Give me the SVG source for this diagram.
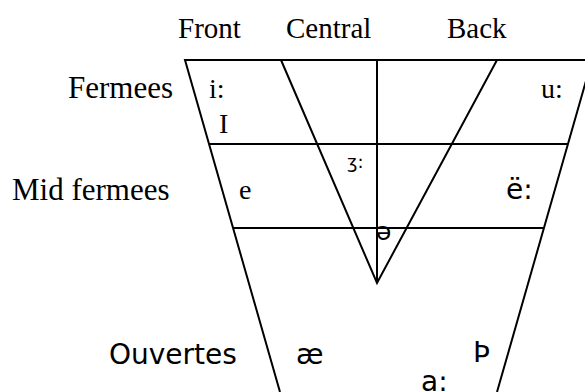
<svg xmlns="http://www.w3.org/2000/svg" width="585" height="392" viewBox="0 0 585 392">
<style>
.ln{stroke:#000;stroke-width:2;fill:none}
.sf{font-family:"Liberation Serif","Times New Roman",serif;font-size:28px;fill:#000}
.ss{font-family:"DejaVu Sans",Verdana,sans-serif;font-size:28px;fill:#000}
</style>
<rect width="585" height="392" fill="#fff"/>
<g id="connectors">
<polyline class="ln" points="280,392 185,60 592,60 497,392"/>
<line class="ln" x1="209" y1="144" x2="568" y2="144"/>
<line class="ln" x1="233" y1="228" x2="544" y2="228"/>
<line class="ln" x1="377" y1="60" x2="377" y2="283"/>
<polyline class="ln" points="281,60 377,283 497,60"/>
</g>
<g id="headers">
<text class="sf" x="178" y="38" style="font-size:29px">Front</text>
<text class="sf" x="286" y="38" style="font-size:29px">Central</text>
<text class="sf" x="447" y="38" style="font-size:29px">Back</text>
</g>
<g id="rows">
<text class="sf" x="68" y="98" style="font-size:31px">Fermees</text>
<text class="sf" x="12" y="200" style="font-size:31px">Mid fermees</text>
<text class="ss" x="109" y="364">Ouvertes</text>
</g>
<g id="vowels">
<text class="sf" x="209" y="98">i:</text>
<text class="sf" x="219" y="133">I</text>
<text class="sf" x="541" y="98">u:</text>
<text class="sf" x="239" y="199">e</text>
<text class="ss" x="506" y="199">ë:</text>
<text class="ss" x="347" y="168" style="font-size:18px">ʒ:</text>
<text class="ss" x="376" y="240" style="font-size:25px">ə</text>
<text class="ss" x="296" y="364">æ</text>
<text class="ss" x="473" y="362">Þ</text>
<text class="ss" x="421" y="391">a:</text>
</g>
</svg>
